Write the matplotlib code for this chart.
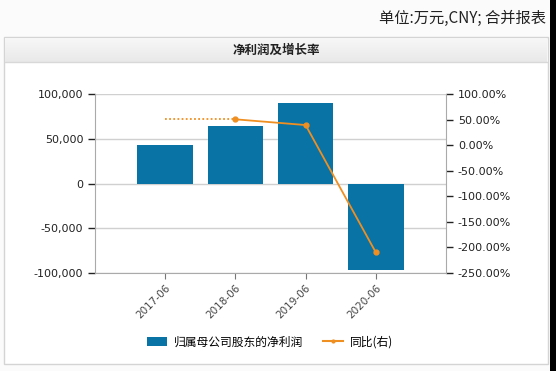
import numpy as np
import matplotlib
matplotlib.use('Agg')
import matplotlib.pyplot as plt
from matplotlib.patches import Rectangle, Patch
from matplotlib.lines import Line2D
from matplotlib.colors import LinearSegmentedColormap
from matplotlib.ticker import FuncFormatter, MultipleLocator

plt.rcParams['font.family'] = ['DejaVu Sans', 'Noto Sans CJK SC']
CJK = ['Noto Sans CJK SC', 'DejaVu Sans']

# data
periods = ['2017-06', '2018-06', '2019-06', '2020-06']
net_profit = [42600, 64800, 90300, -96700]    # 万元
yoy_pct = [50.5, 50.5, 39.3, -209.7]         # % (2017 segment drawn dotted)

bar_color = '#0a73a5'
line_color = '#ef8f22'
W, H = 556, 371

fig = plt.figure(figsize=(W / 100, H / 100), dpi=100)
fig.patch.set_facecolor('#fbfbfb')

def fx(px):
    return px / W

def fy(py):
    return 1 - py / H

# panel with title bar
fig.patches.append(Rectangle((fx(4), fy(364)), fx(548) - fx(4), fy(37) - fy(364),
                             transform=fig.transFigure, facecolor='white',
                             edgecolor='#d4d4d4', lw=1, zorder=-5))
grad = np.linspace(0, 1, 50).reshape(-1, 1)
gax = fig.add_axes([fx(5), fy(62), fx(547) - fx(5), fy(38) - fy(62)])
gax.imshow(grad, aspect='auto', origin='upper',
           cmap=LinearSegmentedColormap.from_list('g', ['#f7f7f7', '#e9e9e9']))
gax.set_axis_off()
fig.add_artist(Line2D([fx(5), fx(547)], [fy(62), fy(62)], transform=fig.transFigure,
                      color='#d8d8d8', lw=1))
# black strip on the right edge
fig.patches.append(Rectangle((fx(550), 0), 1 - fx(550), 1, transform=fig.transFigure,
                             facecolor='black', edgecolor='none', zorder=5))

fig.text(fx(546), fy(18), '单位:万元,CNY; 合并报表', ha='right', va='center',
         fontsize=11, family=CJK, color='#222222')
fig.text(fx(276), fy(50), '净利润及增长率', ha='center', va='center',
         fontsize=9, family=CJK, color='#222222', fontweight='bold')

ax = fig.add_axes([fx(95), fy(273), fx(446) - fx(95), fy(94) - fy(273)])
x = np.arange(1, len(periods) + 1)
ax.bar(x, net_profit, width=0.79, color=bar_color, zorder=2)
ax.set_xlim(0, 5)
ax.set_ylim(-100000, 100000)
ax.yaxis.set_major_locator(MultipleLocator(50000))
ax.yaxis.set_major_formatter(FuncFormatter(lambda v, p: f'{v:,.0f}'))
ax.grid(axis='y', color='#d0d0d0', lw=1, zorder=0)
ax.set_xticks(x)
ax.set_xticklabels(periods, rotation=45, ha='right', rotation_mode='anchor',
                   fontsize=7.5, color='#444444')
for s in ['top', 'right']:
    ax.spines[s].set_visible(False)
for s in ['left', 'bottom']:
    ax.spines[s].set_color('#aaaaaa')
ax.tick_params(axis='y', labelsize=8, colors='#222222', length=5, width=1)
ax.tick_params(axis='x', length=4, color='#777777', pad=3)

ax2 = ax.twinx()
ax2.set_ylim(-250, 100)
ax2.yaxis.set_major_locator(MultipleLocator(50))
ax2.yaxis.set_major_formatter(FuncFormatter(lambda v, p: f'{v:.2f}%'))
ax2.plot(x[:2], yoy_pct[:2], color=line_color, lw=1.3, ls=(0, (1, 1.3)), zorder=3)
ax2.plot(x[1:], yoy_pct[1:], color=line_color, lw=1.3, marker='o', ms=3.5, zorder=3)
for s in ['top', 'left', 'bottom']:
    ax2.spines[s].set_visible(False)
ax2.spines['right'].set_color('#aaaaaa')
ax2.tick_params(axis='y', labelsize=8, colors='#222222', length=5, width=1)

handles = [Patch(facecolor=bar_color, edgecolor='none'),
           Line2D([0], [0], color=line_color, lw=1.5, marker='o', ms=2)]
fig.legend(handles, ['归属母公司股东的净利润', '同比(右)'], loc='center',
           bbox_to_anchor=(fx(270), fy(342)), ncol=2, frameon=False,
           prop={'family': CJK, 'size': 8.5}, handlelength=1.7, handleheight=0.9,
           columnspacing=1.7, handletextpad=0.6)

fig.savefig('out.png', dpi=100, facecolor=fig.get_facecolor())
